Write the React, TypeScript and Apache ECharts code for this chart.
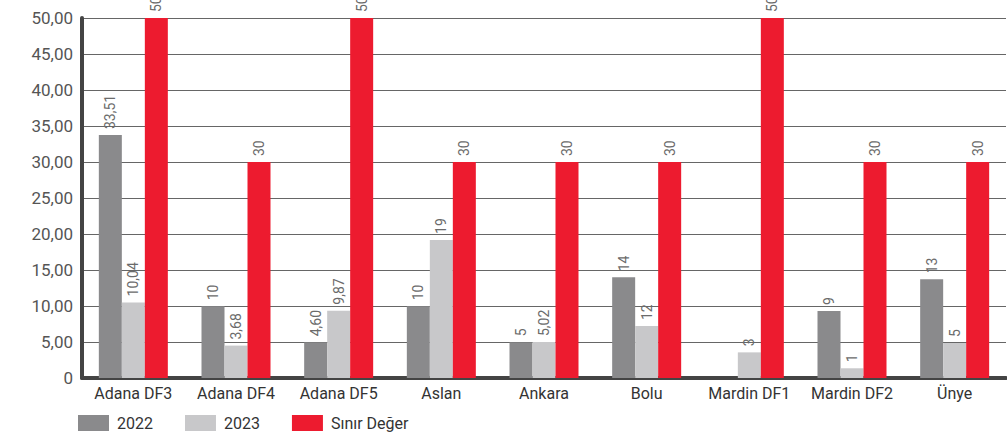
import React, { useEffect, useRef } from "react";
import * as echarts from "echarts";

const categories = ["Adana DF3", "Adana DF4", "Adana DF5", "Aslan", "Ankara", "Bolu", "Mardin DF1", "Mardin DF2", "Ünye"];
const seriesNames = ["2022", "2023", "Sınır Değer"];
// bar heights as drawn in the picture
const values2022 = [33.75, 9.95, 4.95, 9.95, 4.95, 13.98, null, 9.3, 13.7];
const values2023 = [10.5, 4.5, 9.35, 19.17, 5.0, 7.22, 3.56, 1.35, 4.86];
const valuesLimit = [50, 30, 50, 30, 30, 30, 50, 30, 30];
// value labels as printed in the picture
const labels2022 = ["33,51", "10", "4,60", "10", "5", "14", "", "9", "13"];
const labels2023 = ["10,04", "3,68", "9,87", "19", "5,02", "12", "3", "1", "5"];
const labelsLimit = ["50", "30", "50", "30", "30", "30", "50", "30", "30"];
const colors = ["#8a8a8c", "#c8c8ca", "#ed1b2f"];

export default function App() {
  const ref = useRef<HTMLDivElement>(null);
  useEffect(() => {
    if (!ref.current) return;
    const chart = echarts.init(ref.current, undefined, { renderer: "svg" });
    const font = "Roboto";
    const mkLabel = (arr: string[]) => ({
      show: true,
      position: "top",
      rotate: 90,
      align: "left",
      verticalAlign: "middle",
      distance: 6,
      color: "#6b6b6b",
      fontSize: 14,
      fontFamily: font,
      formatter: (p: any) => arr[p.dataIndex] ?? "",
    });
    const valueSets = [values2022, values2023, valuesLimit];
    const labelSets = [labels2022, labels2023, labelsLimit];
    chart.setOption({
      animation: false,
      grid: { left: 82, right: 1, top: 18, bottom: 57, containLabel: false },
      legend: {
        left: 73,
        top: 410,
        icon: "rect",
        itemWidth: 31,
        itemHeight: 16,
        itemGap: 32,
        textStyle: { fontFamily: font, fontSize: 16, color: "#333", padding: [0, 0, 0, 3] },
        data: seriesNames,
      },
      xAxis: {
        type: "category",
        data: categories,
        axisLine: { show: true, lineStyle: { color: "#444", width: 4 } },
        axisTick: { show: false },
        axisLabel: { fontFamily: font, fontSize: 16, color: "#333", margin: 7, interval: 0 },
      },
      yAxis: {
        type: "value",
        min: 0,
        max: 50,
        interval: 5,
        axisLine: { show: true, lineStyle: { color: "#444", width: 4 } },
        axisTick: { show: false },
        splitLine: { show: true, lineStyle: { color: "#666", width: 1 } },
        axisLabel: {
          fontFamily: font,
          fontSize: 17,
          color: "#555",
          margin: 9,
          formatter: (v: number) => (v === 0 ? "0" : v.toFixed(2).replace(".", ",")),
        },
      },
      series: seriesNames.map((name, i) => ({
        name,
        type: "bar",
        data: valueSets[i],
        barWidth: 23,
        barGap: "0%",
        itemStyle: { color: colors[i] },
        label: mkLabel(labelSets[i]),
      })),
    });
    return () => chart.dispose();
  }, []);
  return (
    <div
      ref={ref}
      style={{ position: "fixed", left: 0, top: 0, width: 1007, height: 435, background: "#fff" }}
    />
  );
}
